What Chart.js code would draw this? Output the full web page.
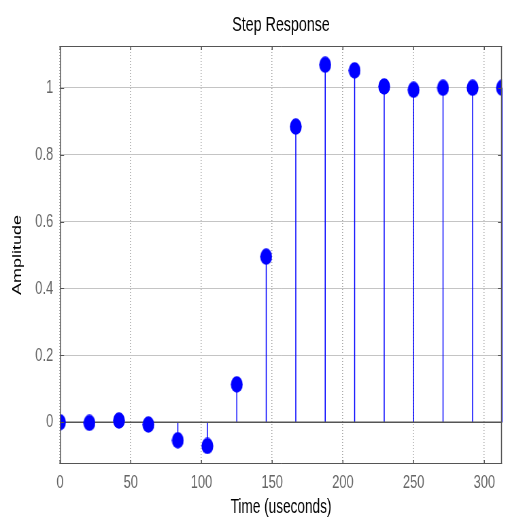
<!DOCTYPE html>
<html>
<head>
<meta charset="utf-8">
<title>Step Response</title>
<script src="https://cdn.jsdelivr.net/npm/chart.js"></script>
<style>
  html, body { margin: 0; padding: 0; background: #fff; overflow: hidden; }
  #wrap { width: 506px; height: 522px; overflow: hidden; }
  /* the original figure is squashed sideways, so draw wide and squeeze */
  #chart { transform: scaleX(0.68); transform-origin: 0 0; }
</style>
</head>
<body>
<div id="wrap"><canvas id="chart"></canvas></div>
<script>
  // sample times (useconds) and step response amplitudes
  const times = [0, 20.8, 41.7, 62.5, 83.3, 104.2, 125, 145.8, 166.7, 187.5, 208.3, 229.2, 250, 270.8, 291.7, 312.5];
  const amplitude = [0, -0.002, 0.005, -0.007, -0.054, -0.071, 0.113, 0.495, 0.884, 1.069, 1.052, 1.004, 0.994, 1.0, 1.0, 1.0];
  const xTicks = [0, 50, 100, 150, 200, 250, 300];
  const yTicks = [0, 0.2, 0.4, 0.6, 0.8, 1];

  const SX = 0.68;                        // horizontal squeeze, same as the css
  const CW = Math.round(506 / SX);        // canvas width before squeeze
  const FONT = "'Liberation Sans', Arial, sans-serif";
  const BLUE = '#0000ff';

  const cv = document.getElementById('chart');
  cv.width = CW;
  cv.height = 522;

  // round-ish stem head (ends up a tall ellipse after the squeeze)
  function ellipseMarker(w, h) {
    const c = document.createElement('canvas');
    c.width = w; c.height = h;
    const g = c.getContext('2d');
    g.fillStyle = BLUE;
    g.beginPath();
    g.ellipse(w / 2, h / 2, w / 2 - 0.3, h / 2 - 0.3, 0, 0, Math.PI * 2);
    g.fill();
    return c;
  }
  const marker = ellipseMarker(18, 17);

  // stems + baseline, under the markers
  const stemPlugin = {
    id: 'stems',
    beforeDatasetsDraw(chart) {
      const { ctx, chartArea, scales: { x, y } } = chart;
      const y0 = y.getPixelForValue(0);
      ctx.save();
      ctx.strokeStyle = BLUE;
      ctx.lineWidth = 1.5;
      times.forEach((t, i) => {
        const px = x.getPixelForValue(t);
        ctx.beginPath();
        ctx.moveTo(px, y0);
        ctx.lineTo(px, y.getPixelForValue(amplitude[i]));
        ctx.stroke();
      });
      ctx.strokeStyle = '#555';
      ctx.lineWidth = 1.5;
      ctx.beginPath();
      ctx.moveTo(chartArea.left, y0);
      ctx.lineTo(chartArea.right, y0);
      ctx.stroke();
      ctx.restore();
    }
  };

  // axes box with small inward ticks on all sides, plus the title over the axes
  const framePlugin = {
    id: 'frame',
    afterDraw(chart) {
      const { ctx, chartArea: a, scales: { x, y } } = chart;
      ctx.save();
      ctx.strokeStyle = '#555';
      ctx.lineWidth = 1;
      ctx.beginPath();
      ctx.moveTo(a.left, a.top + 0.5); ctx.lineTo(a.right, a.top + 0.5);
      ctx.moveTo(a.left, a.bottom - 0.5); ctx.lineTo(a.right, a.bottom - 0.5);
      ctx.stroke();
      ctx.lineWidth = 1.5;
      ctx.beginPath();
      ctx.moveTo(a.left + 0.75, a.top); ctx.lineTo(a.left + 0.75, a.bottom);
      ctx.moveTo(a.right - 0.75, a.top); ctx.lineTo(a.right - 0.75, a.bottom);
      xTicks.forEach(v => {
        const px = x.getPixelForValue(v);
        ctx.moveTo(px, a.bottom); ctx.lineTo(px, a.bottom - 4);
        ctx.moveTo(px, a.top); ctx.lineTo(px, a.top + 4);
      });
      ctx.stroke();
      ctx.lineWidth = 1;
      ctx.beginPath();
      yTicks.forEach(v => {
        const py = Math.round(y.getPixelForValue(v)) + 0.5;
        ctx.moveTo(a.left, py); ctx.lineTo(a.left + 6, py);
        ctx.moveTo(a.right, py); ctx.lineTo(a.right - 6, py);
      });
      ctx.stroke();

      ctx.fillStyle = '#000';
      ctx.font = '21px ' + FONT;
      ctx.textAlign = 'center';
      ctx.textBaseline = 'alphabetic';
      ctx.fillText('Step Response', (a.left + a.right) / 2, 30.5);
      ctx.restore();
    }
  };

  new Chart(cv, {
    type: 'scatter',
    data: {
      datasets: [{
        label: 'Step Response',
        data: times.map((t, i) => ({ x: t, y: amplitude[i] })),
        pointStyle: marker,
        showLine: false
      }]
    },
    options: {
      responsive: false,
      animation: false,
      layout: { padding: { left: 0, right: CW - 502 / SX, top: 46, bottom: 0 } },
      plugins: {
        legend: { display: false },
        tooltip: { enabled: false }
      },
      scales: {
        x: {
          type: 'linear',
          min: 0,
          max: 312.5,
          afterBuildTicks: s => { s.ticks = xTicks.map(v => ({ value: v })); },
          afterFit: s => { s.height = 58; },
          grid: { color: '#a8a8a8', lineWidth: 1.5, drawTicks: false },
          border: { display: false, dash: [1, 2] },
          ticks: { color: '#666', padding: 7, font: { family: FONT, size: 19 } },
          title: {
            display: true,
            text: 'Time (useconds)',
            color: '#000',
            padding: { top: 0, bottom: 3 },
            font: { family: FONT, size: 20 }
          }
        },
        y: {
          type: 'linear',
          min: -0.125,
          max: 1.125,
          afterBuildTicks: s => { s.ticks = yTicks.map(v => ({ value: v })); },
          afterFit: s => { s.width = 60 / SX; },
          grid: { color: '#c4c4c4', lineWidth: 1, drawTicks: false },
          border: { display: false },
          ticks: {
            color: '#666',
            padding: 10,
            font: { family: FONT, size: 19 },
            callback: v => String(Math.round(v * 10) / 10)
          },
          title: {
            display: true,
            text: 'Amplitude',
            color: '#000',
            padding: { top: 15, bottom: 0 },
            font: { family: FONT, size: 18 }
          }
        }
      }
    },
    plugins: [stemPlugin, framePlugin]
  });
</script>
</body>
</html>
